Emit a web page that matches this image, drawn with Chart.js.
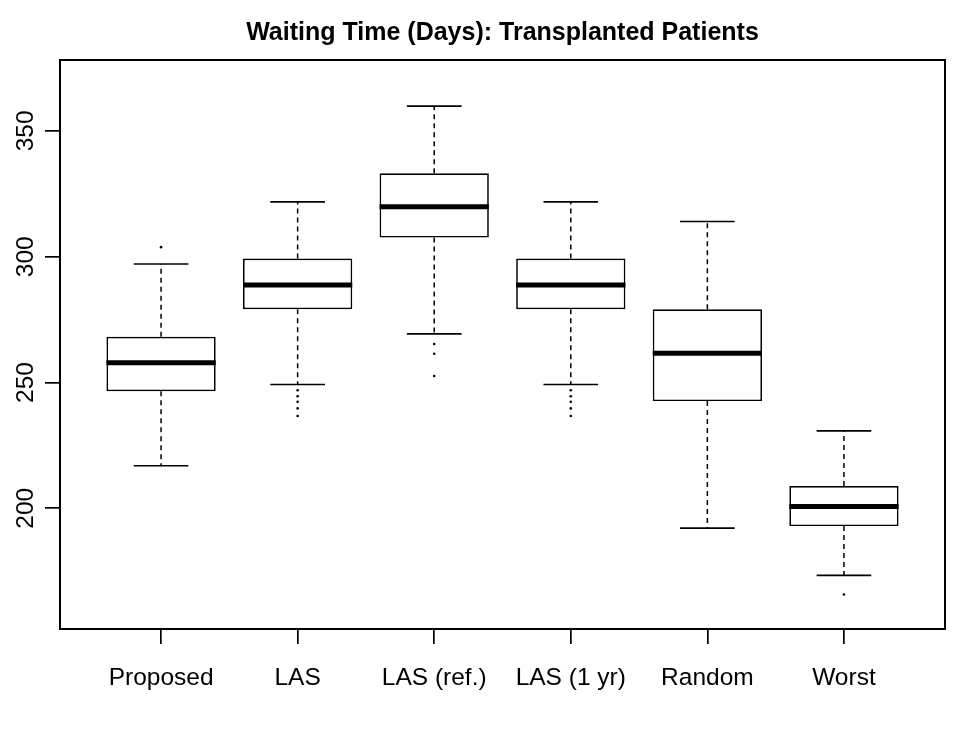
<!DOCTYPE html>
<html><head><meta charset="utf-8">
<script src="https://cdn.jsdelivr.net/npm/chart.js@4/dist/chart.umd.min.js"></script>
<style>html,body{margin:0;padding:0;background:#fff}</style>
</head><body>
<canvas id="c" width="975" height="750"></canvas>
<script>
const categories = ['Proposed', 'LAS', 'LAS (ref.)', 'LAS (1 yr)', 'Random', 'Worst'];
const whiskerLow  = [216.9, 249.2, 269.3, 249.2, 192.1, 173.3];
const q1          = [246.5, 279.1, 307.6, 279.1, 242.6, 192.9];
const medians     = [257.8, 288.8, 319.9, 288.8, 261.6, 200.7];
const q3          = [268.2, 299.3, 333.2, 299.3, 279.1, 208.8];
const whiskerHigh = [297.1, 321.8, 359.9, 321.8, 314.0, 230.8];
const outliers = [
  [303.8],
  [246.9, 244.5, 242.3, 239.7, 236.7],
  [265.3, 261.4, 252.6],
  [246.9, 244.5, 242.3, 239.7, 236.7],
  [],
  [165.7]
];
const yTicks = [200, 250, 300, 350];

const BOX_HALF = 0.4;     // half of box width (x units)
const CAP_HALF = 0.2;     // half of staple width
const FONT = "'Liberation Sans', Arial, Helvetica, sans-serif";
Chart.defaults.font.family = FONT;
Chart.defaults.color = '#000';

const boxData = categories.map((c, i) => ({ x: i + 1, y: [q1[i], q3[i]] }));
const medianData = [], whiskerData = [], capData = [], outlierData = [];
categories.forEach((c, i) => {
  const x = i + 1;
  medianData.push({ x: x - BOX_HALF, y: medians[i] }, { x: x + BOX_HALF, y: medians[i] }, { x: x, y: null });
  whiskerData.push({ x: x, y: q3[i] }, { x: x, y: whiskerHigh[i] }, { x: x, y: null },
                   { x: x, y: q1[i] }, { x: x, y: whiskerLow[i] }, { x: x, y: null });
  capData.push({ x: x - CAP_HALF, y: whiskerHigh[i] }, { x: x + CAP_HALF, y: whiskerHigh[i] }, { x: x, y: null },
               { x: x - CAP_HALF, y: whiskerLow[i] }, { x: x + CAP_HALF, y: whiskerLow[i] }, { x: x, y: null });
  outliers[i].forEach(v => outlierData.push({ x: x, y: v }));
});

const framePlugin = {
  id: 'frame',
  afterDraw(chart) {
    const { ctx, chartArea: a, scales } = chart;
    ctx.save();
    ctx.strokeStyle = '#000';
    ctx.lineWidth = 2;
    ctx.strokeRect(a.left, a.top, a.right - a.left, a.bottom - a.top);
    // rotated y tick labels (R style)
    const ys = scales.y;
    ctx.fillStyle = '#000';
    ctx.font = '24.5px ' + FONT;
    ctx.textAlign = 'center';
    ctx.textBaseline = 'alphabetic';
    ys.ticks.forEach(t => {
      const py = ys.getPixelForValue(t.value);
      ctx.save();
      ctx.translate(a.left - 27, py);
      ctx.rotate(-Math.PI / 2);
      ctx.fillText(String(t.value), 0, 0);
      ctx.restore();
    });
    ctx.restore();
  }
};

new Chart(document.getElementById('c'), {
  type: 'bar',
  data: {
    datasets: [
      { type: 'line', data: medianData, borderColor: '#000', borderWidth: 5, borderCapStyle: 'butt',
        pointRadius: 0, fill: false, spanGaps: false, order: 0 },
      { type: 'scatter', data: outlierData, backgroundColor: '#000', borderWidth: 0,
        pointRadius: 1.3, order: 1 },
      { type: 'bar', data: boxData, backgroundColor: '#fff', borderColor: '#000', borderWidth: 1.7,
        borderSkipped: false, barPercentage: 0.8, categoryPercentage: 1, order: 2 },
      { type: 'line', data: capData, borderColor: '#000', borderWidth: 1.7, borderCapStyle: 'butt',
        pointRadius: 0, fill: false, spanGaps: false, order: 3 },
      { type: 'line', data: whiskerData, borderColor: '#000', borderWidth: 1.5, borderDash: [5, 4],
        pointRadius: 0, fill: false, spanGaps: false, order: 4 }
    ]
  },
  options: {
    responsive: false,
    animation: false,
    devicePixelRatio: 1,
    layout: { padding: { left: 0, right: 30, top: 0, bottom: 0 } },
    plugins: {
      legend: { display: false },
      tooltip: { enabled: false },
      title: {
        display: true,
        fullSize: false,
        text: 'Waiting Time (Days): Transplanted Patients',
        color: '#000',
        font: { family: FONT, size: 25, weight: 'bold' },
        padding: { top: 18, bottom: 12 }
      }
    },
    scales: {
      x: {
        type: 'linear',
        min: 0.26, max: 6.74,
        offset: false,
        afterBuildTicks: ax => { ax.ticks = categories.map((c, i) => ({ value: i + 1 })); },
        afterFit: ax => { ax.height = 121; },
        grid: { offset: false, drawOnChartArea: false, drawTicks: true, tickLength: 15, color: '#000', lineWidth: 1.7 },
        border: { display: true, color: '#000', width: 2 },
        ticks: {
          autoSkip: false, maxRotation: 0, minRotation: 0, padding: 20,
          font: { family: FONT, size: 24.5 }, color: '#000',
          callback: v => categories[v - 1]
        }
      },
      y: {
        type: 'linear',
        min: 152.0, max: 378.2,
        afterBuildTicks: ax => { ax.ticks = yTicks.map(v => ({ value: v })); },
        afterFit: ax => { ax.width = 60; },
        grid: { drawOnChartArea: false, drawTicks: true, tickLength: 15, color: '#000', lineWidth: 1.7 },
        border: { display: true, color: '#000', width: 2 },
        ticks: { display: false }
      }
    }
  },
  plugins: [framePlugin]
});
</script>
</body></html>
